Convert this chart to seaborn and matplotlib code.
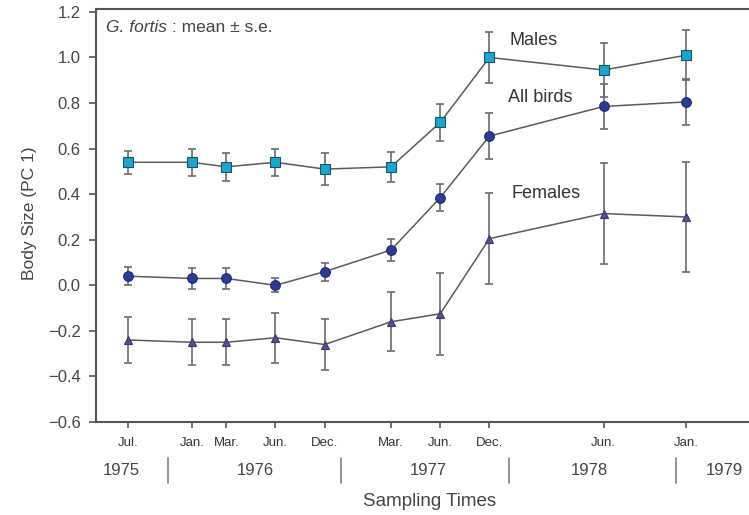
import numpy as np
import pandas as pd
import matplotlib
matplotlib.use("Agg")
import matplotlib.pyplot as plt
import matplotlib.transforms as mtransforms
import seaborn as sns

# ---- data ----
month_labels = ["Jul.", "Jan.", "Mar.", "Jun.", "Dec.", "Mar.", "Jun.", "Dec.", "Jun.", "Jan."]
time_pos = [0.0, 4.8, 7.4, 11.1, 14.8, 19.8, 23.5, 27.2, 35.8, 42.0]
males = [0.54, 0.54, 0.52, 0.54, 0.51, 0.52, 0.715, 1.00, 0.945, 1.01]
males_se = [0.05, 0.06, 0.06, 0.06, 0.07, 0.065, 0.08, 0.11, 0.12, 0.11]
all_birds = [0.04, 0.03, 0.03, 0.00, 0.06, 0.155, 0.385, 0.655, 0.785, 0.805]
all_se = [0.04, 0.045, 0.045, 0.03, 0.04, 0.05, 0.06, 0.10, 0.10, 0.10]
females = [-0.24, -0.25, -0.25, -0.23, -0.26, -0.16, -0.125, 0.205, 0.315, 0.30]
females_se = [0.10, 0.10, 0.10, 0.11, 0.11, 0.13, 0.18, 0.20, 0.22, 0.24]
years = ["1975", "1976", "1977", "1978", "1979"]
year_centers = [-0.5, 9.6, 22.6, 34.7, 44.9]
year_bounds = [3.0, 16.0, 28.7, 41.25]
yticks = [-0.6, -0.4, -0.2, 0.0, 0.2, 0.4, 0.6, 0.8, 1.0, 1.2]

series = {"Males": (males, males_se), "All birds": (all_birds, all_se), "Females": (females, females_se)}
rows = []
for name, (vals, ses) in series.items():
    for t, v, s in zip(time_pos, vals, ses):
        rows.append({"time": t, "size": v, "se": s, "group": name})
df = pd.DataFrame(rows)

styles = {
    "Males": dict(marker="s", mfc="#1ea5cc", mec="#1b4f63", ms=7.0, y_lab=1.075, x_lab=28.7),
    "All birds": dict(marker="o", mfc="#2b3c93", mec="#1e2a6a", ms=7.0, y_lab=0.825, x_lab=28.6),
    "Females": dict(marker="^", mfc="#5e4d92", mec="#40346e", ms=6.0, y_lab=0.405, x_lab=28.9),
}

sns.set_style("ticks")
plt.rcParams["font.family"] = ["Liberation Sans", "DejaVu Sans"]

fig = plt.figure(figsize=(7.49, 5.15), dpi=100)
ax = fig.add_axes([96 / 749, (515 - 422) / 515, 1 - 96 / 749, (422 - 8.5) / 515])

line_col = "#5a5a5a"
for name in ["Females", "All birds", "Males"]:
    sub = df[df["group"] == name]
    st = styles[name]
    ax.errorbar(sub["time"], sub["size"], yerr=sub["se"], fmt="none",
                ecolor="#6a6a6a", elinewidth=1.2, capsize=3.0, capthick=1.2, zorder=2)
    sns.lineplot(data=sub, x="time", y="size", ax=ax, color=line_col, linewidth=1.1,
                 marker=st["marker"], markersize=st["ms"], markerfacecolor=st["mfc"],
                 markeredgecolor=st["mec"], markeredgewidth=0.8, zorder=3,
                 estimator=None, sort=False, legend=False)
    ax.text(st["x_lab"], st["y_lab"], name, fontsize=13, color="#333333",
            ha="left", va="center")

ax.set_xlim(-2.41, 46.74)
ax.set_ylim(-0.6, 1.215)
ax.set_yticks(yticks)
ax.set_yticklabels([f"{v:.1f}".replace("-", "\u2212") for v in yticks])
ax.set_xticks(time_pos)
ax.set_xticklabels(month_labels, fontsize=9.5, color="#333333")
ax.tick_params(axis="y", direction="out", length=5, width=1.2, colors="#555555",
               labelsize=12, labelcolor="#444444", pad=6)
ax.tick_params(axis="x", direction="out", length=4, width=1.2, colors="#555555",
               pad=7)
for lbl in ax.get_xticklabels():
    lbl.set_color("#333333")
ax.set_xlabel("")
ax.set_ylabel("")

for side in ["left", "bottom", "top"]:
    ax.spines[side].set_color("#555555")
    ax.spines[side].set_linewidth(1.5)
ax.spines["right"].set_visible(False)

trans = mtransforms.blended_transform_factory(ax.transData, ax.transAxes)
for yr, xc in zip(years, year_centers):
    ax.text(xc, -0.1185, yr, transform=trans, ha="center", va="center",
            fontsize=12, color="#444444")
for xb in year_bounds:
    ax.plot([xb, xb], [-0.087, -0.1475], transform=trans, color="#8a8a8a",
            linewidth=1.3, clip_on=False)
ax.text(22.7, -0.193, "Sampling Times", transform=trans, ha="center", va="center",
        fontsize=13.5, color="#444444")

fig.text(30 / 749, (515 - 213) / 515, "Body Size (PC 1)", rotation=90,
         ha="center", va="center", fontsize=12.5, color="#444444")

t1 = ax.text(-1.66, 1.133, "G. fortis", fontsize=12.5, color="#444444",
             fontstyle="italic", ha="left", va="center")
renderer = fig.canvas.get_renderer()
w_px = t1.get_window_extent(renderer).width
ax.annotate(" : mean \u00b1 s.e.", xy=(-1.66, 1.133), xycoords="data",
            xytext=(w_px * 72 / fig.dpi, 0), textcoords="offset points", fontsize=12.5,
            color="#444444", ha="left", va="center")

fig.savefig("out.png", dpi=100)
